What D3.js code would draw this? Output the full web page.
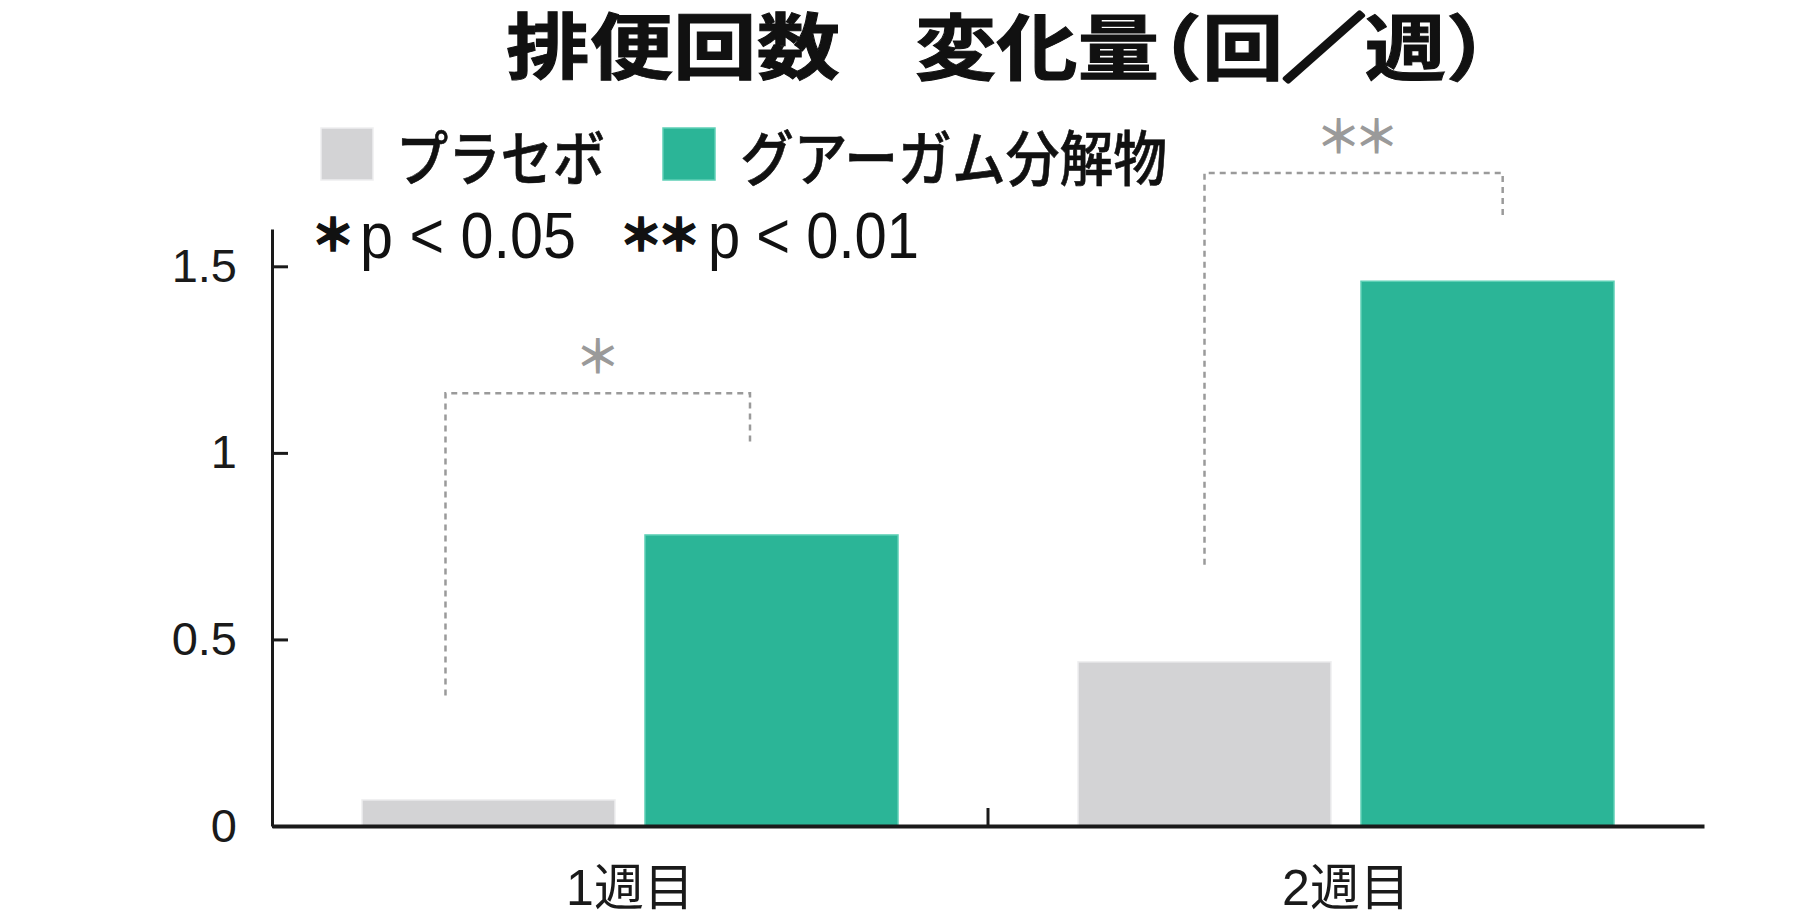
<!DOCTYPE html>
<html><head><meta charset="utf-8">
<script src="https://cdn.jsdelivr.net/npm/d3@7"></script>
<style>
html,body{margin:0;padding:0;background:#fff;}
svg{display:block;}
</style></head>
<body>
<script>
// ---- data ----
const categories = ["1週目", "2週目"];
const seriesNames = ["プラセボ", "グアーガム分解物"];
const placeboValues = [0.07, 0.44];
const guarValues = [0.78, 1.46];
const yTickValues = [0, 0.5, 1, 1.5];
const yTickLabels = ["0", "0.5", "1", "1.5"];
const sigLabels = ["＊", "＊＊"];
const bracketTopValues = [1.16, 1.75];
const bracketLeftEndValues = [0.35, 0.70];
const bracketRightEndValues = [1.03, 1.63];
const titleMain = "排便回数";
const titleSub = ["変化量", "（", "回", "／", "週）"];
const pNoteParts = ["＊", "p < 0.05", "＊＊", "p < 0.01"];

// ---- layout ----
const W = 1815, H = 921;
const colors = ["#d3d3d5", "#2bb597"];
const svg = d3.select("body").append("svg").attr("width", W).attr("height", H);

const x = d3.scaleBand().domain(categories).range([272, 1704]).padding(0);
const inner = d3.scaleBand().domain([0, 1]).range([90, 626]).paddingInner(0.106).paddingOuter(0);
const y = d3.scaleLinear().domain([0, 1.6]).range([826, 229]);

const series = [placeboValues, guarValues];
const bars = [];
categories.forEach((c, ci) => series.forEach((vals, si) => bars.push({c, si, v: vals[ci]})));

// bars
svg.append("g").selectAll("rect").data(bars).join("rect")
  .attr("x", d => x(d.c) + inner(d.si))
  .attr("width", inner.bandwidth())
  .attr("y", d => y(d.v))
  .attr("height", d => y(0) - y(d.v))
  .attr("fill", d => colors[d.si])
  .attr("stroke", d => d.si === 0 ? "#eeeeef" : "#5fd0b6")
  .attr("stroke-width", 1.5);

// y axis
const yAxis = d3.axisLeft(y).tickValues(yTickValues).tickFormat((d, i) => yTickLabels[i])
  .tickSize(-16).tickSizeOuter(0).tickPadding(35);
const gy = svg.append("g").attr("transform", "translate(272,0)").call(yAxis);
gy.select(".domain").attr("stroke", "#1a1a1a").attr("stroke-width", 3);
gy.selectAll(".tick line").attr("stroke", "#1a1a1a").attr("stroke-width", 3);
gy.selectAll(".tick text").attr("fill", "#1a1a1a")
  .style("font-family", "'Liberation Sans', Arial, sans-serif").style("font-size", "47px");

// x axis
const xAxis = d3.axisBottom(x).tickSize(0).tickSizeOuter(0).tickPadding(62);
const gx = svg.append("g").attr("transform", "translate(0," + y(0) + ")").call(xAxis);
gx.select(".domain").attr("stroke", "#1a1a1a").attr("stroke-width", 4);
gx.selectAll(".tick text").attr("fill", "#1a1a1a").attr("dy", "0")
  .attr("dominant-baseline", "central")
  .style("font-family", "'Liberation Sans','Noto Sans CJK JP', sans-serif").style("font-size", "50px");
// category boundary tick
svg.append("line")
  .attr("x1", x(categories[1])).attr("x2", x(categories[1]))
  .attr("y1", y(0)).attr("y2", y(0) - 18)
  .attr("stroke", "#1a1a1a").attr("stroke-width", 3);

// significance brackets
const bracketFrac = [[0.33, 0.415], [0.50, 0.56]];
const bg = svg.append("g");
categories.forEach((c, ci) => {
  const xl = x(c) + inner(0) + inner.bandwidth() * bracketFrac[ci][0];
  const xr = x(c) + inner(1) + inner.bandwidth() * bracketFrac[ci][1];
  const yt = y(bracketTopValues[ci]);
  bg.append("path")
    .attr("d", `M${xl},${y(bracketLeftEndValues[ci])}V${yt}H${xr}V${y(bracketRightEndValues[ci])}`)
    .attr("fill", "none").attr("stroke", "#9a9a9a").attr("stroke-width", 2.5)
    .attr("stroke-dasharray", "6,5");
  bg.append("text")
    .attr("x", (xl + xr) / 2).attr("y", yt - 40)
    .attr("text-anchor", "middle").attr("dominant-baseline", "central")
    .attr("letter-spacing", ci === 0 ? 0 : -8)
    .attr("fill", "#9a9a9a")
    .style("font-family", "'Noto Sans CJK JP', sans-serif").style("font-weight", "700").style("font-size", "46px")
    .text(sigLabels[ci]);
});

// title
const titleStyle = sel => sel.attr("dominant-baseline", "central")
  .attr("fill", "#111").attr("stroke", "#111").attr("stroke-width", 1)
  .style("font-family", "'Noto Sans CJK JP', sans-serif").style("font-weight", "700").style("font-size", "72px");
svg.append("text").attr("transform", "translate(506,42) scale(1.16,1)").call(titleStyle).text(titleMain);
const t2 = svg.append("text").attr("transform", "translate(915,42) scale(1.13,1)").call(titleStyle);
titleSub.forEach((s, i) => {
  const ts = t2.append("tspan").text(s);
  if (i === 1) ts.attr("dx", -34);
  if (i === 3) ts.style("stroke-width", "5px").style("stroke-linejoin", "round");
});

// legend
const legendX = [321, 663];
const legendTextX = [396, 740];
const legendTextW = [209, 427];
seriesNames.forEach((name, i) => {
  svg.append("rect").attr("x", legendX[i]).attr("y", 128).attr("width", 52).attr("height", 52)
    .attr("fill", colors[i]).attr("stroke", i === 0 ? "#eeeeef" : "#5fd0b6").attr("stroke-width", 1.5);
  svg.append("text").attr("x", legendTextX[i]).attr("y", 154)
    .attr("dominant-baseline", "central")
    .attr("textLength", legendTextW[i]).attr("lengthAdjust", "spacingAndGlyphs")
    .attr("fill", "#111").attr("stroke", "#111").attr("stroke-width", 0.6)
    .style("font-family", "'Noto Sans CJK JP', sans-serif").style("font-weight", "500").style("font-size", "60px")
    .text(name);
});

// p-value note
const pX = [311, 360, 619, 708];
const pW = [null, 216, null, 211];
pNoteParts.forEach((t, i) => {
  const star = i % 2 === 0;
  const tx = svg.append("text").attr("x", pX[i]).attr("y", star ? 232 : 236)
    .attr("dominant-baseline", "central")
    .attr("fill", "#111")
    .style("font-family", star ? "'Noto Sans CJK JP', sans-serif" : "'Liberation Sans', Arial, sans-serif")
    .style("font-weight", star ? "900" : "400")
    .style("font-size", star ? "44px" : "64px")
    .text(t);
  if (star) tx.attr("letter-spacing", -6).attr("stroke", "#111").attr("stroke-width", 1.5);
  else tx.attr("textLength", pW[i]).attr("lengthAdjust", "spacingAndGlyphs");
});
</script>
</body></html>
